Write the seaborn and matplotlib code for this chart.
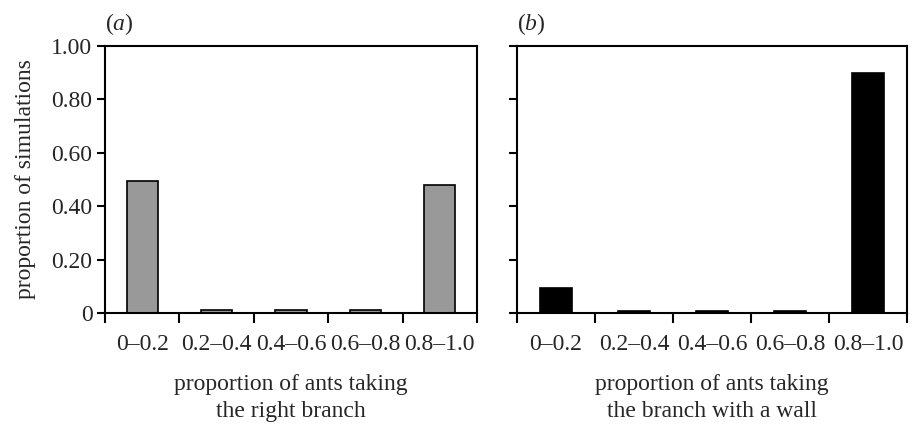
import matplotlib
matplotlib.use("Agg")
import matplotlib.pyplot as plt
import seaborn as sns
import pandas as pd
from matplotlib.ticker import FixedLocator

bins = ["0–0.2", "0.2–0.4", "0.4–0.6", "0.6–0.8", "0.8–1.0"]
right_branch = [0.494, 0.012, 0.012, 0.012, 0.479]
wall_branch = [0.094, 0.007, 0.007, 0.007, 0.900]
yticks = [0, 0.2, 0.4, 0.6, 0.8, 1.0]
ytick_labels = ["0", "0.20", "0.40", "0.60", "0.80", "1.00"]

sns.set_style("ticks")
plt.rcParams["font.family"] = ["Liberation Serif", "DejaVu Serif"]
plt.rcParams["mathtext.fontset"] = "custom"
plt.rcParams["mathtext.it"] = "Liberation Serif:italic"
plt.rcParams["mathtext.rm"] = "Liberation Serif"

fs = 17
fig = plt.figure(figsize=(9.18, 4.26), dpi=100)
ax1 = fig.add_axes([105/918, 1-313/426, 372/918, 267/426])
ax2 = fig.add_axes([517/918, 1-313/426, 390/918, 267/426])

panels = [
    (ax1, right_branch, "#999999", "proportion of ants taking\nthe right branch", "a"),
    (ax2, wall_branch, "black", "proportion of ants taking\nthe branch with a wall", "b"),
]

for ax, vals, col, xlab, tag in panels:
    df = pd.DataFrame({"bin": bins, "val": vals})
    sns.barplot(data=df, x="bin", y="val", color=col, edgecolor="black",
                linewidth=1.2, width=0.42, saturation=1, ax=ax)
    ax.set_xlim(-0.5, 4.5)
    ax.set_ylim(0, 1.0)
    ax.set_yticks(yticks)
    ax.xaxis.set_minor_locator(FixedLocator([i - 0.5 for i in range(6)]))
    ax.tick_params(axis="x", which="major", length=0, labelsize=fs, pad=15)
    ax.tick_params(axis="x", which="minor", length=7, width=1.5, direction="out", color="black")
    ax.tick_params(axis="y", length=6, width=1.5, direction="out", color="black", labelsize=fs, pad=3)
    for s in ax.spines.values():
        s.set_linewidth(1.5)
        s.set_color("black")
    ax.set_xlabel(xlab, fontsize=fs, labelpad=14, linespacing=1.35)
    ax.set_ylabel("")
    ax.text(0.0, 1.035, "($\\mathit{" + tag + "}$)", transform=ax.transAxes,
            fontsize=fs, ha="left", va="bottom")

ax1.set_yticklabels(ytick_labels)
ax1.set_ylabel("proportion of simulations", fontsize=fs, labelpad=11)
ax2.set_yticklabels([])

fig.savefig("out.png", dpi=100)
